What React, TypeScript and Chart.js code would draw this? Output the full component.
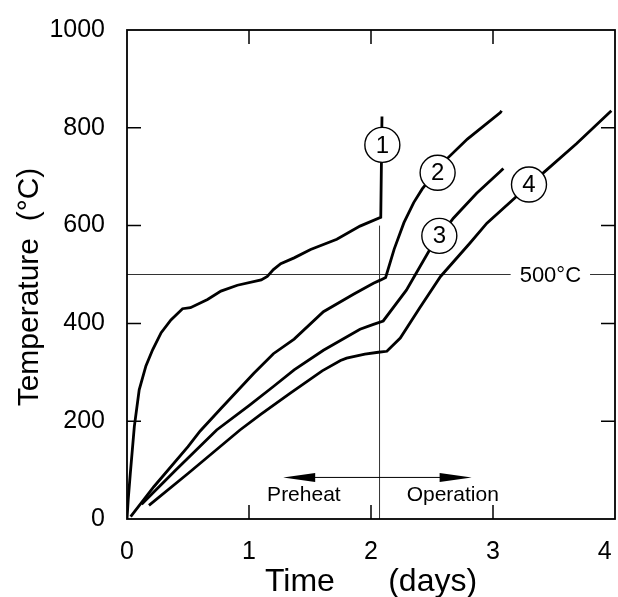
import React, { useEffect, useRef } from 'react';
import { Chart, registerables } from 'chart.js';

Chart.register(...registerables);

const FONT = '"Liberation Sans", Arial, Helvetica, sans-serif';

// Axis ticks
const xTicks = [0, 1, 2, 3, 4];
const yTicks = [0, 200, 400, 600, 800, 1000];

// Curve 1
const curve1Days = [0, 0.01, 0.027, 0.06, 0.1, 0.155, 0.21, 0.28, 0.36, 0.455, 0.52, 0.66, 0.77, 0.905, 1.1, 1.15, 1.2, 1.26, 1.37, 1.505, 1.72, 1.91, 2.08, 2.09];
const curve1Temp = [0, 40, 93, 189, 264, 313, 346, 381, 407, 430, 432, 449, 466, 478, 489, 496, 510, 522, 534, 551, 572, 599, 617, 823];

// Curve 2
const curve2Days = [0.03, 0.22, 0.5, 0.6, 0.77, 1.04, 1.2, 1.37, 1.61, 1.86, 2.02, 2.08, 2.12, 2.19, 2.27, 2.35, 2.42, 2.62, 2.79, 3.06, 3.07];
const curve2Temp = [5, 66, 148, 180, 226, 298, 338, 368, 424, 460, 482, 489, 494, 552, 606, 647, 675, 736, 777, 831, 835];

// Curve 3
const curve3Days = [0.12, 0.4, 0.735, 1.0, 1.2, 1.37, 1.61, 1.91, 2.02, 2.1, 2.29, 2.35, 2.48, 2.675, 2.866, 3.057, 3.085];
const curve3Temp = [30, 100, 182, 232, 271, 305, 345, 388, 398, 405, 468, 494, 550, 615, 666, 710, 717];

// Curve 4
const curve4Days = [0.18, 0.5, 0.926, 1.096, 1.336, 1.6, 1.75, 1.8, 1.95, 2.06, 2.13, 2.24, 2.4, 2.57, 2.81, 2.95, 3.19, 3.44, 3.686, 3.97];
const curve4Temp = [28, 93, 182, 214, 257, 303, 324, 329, 337, 341, 343, 370, 432, 496, 564, 605, 659, 714, 768, 835];

// Circled curve labels
const curveLabels = ['1', '2', '3', '4'];
const labelDays = [2.093, 2.546, 2.56, 3.295];
const labelTemps = [765, 708, 579, 684];

// Reference line and phase annotations
const refTemp = 500;
const refLabel = '500°C';
const refLabelDay = 3.47;
const switchDay = 2.07;
const switchTopTemp = 600;
const arrowTemp = 85;
const arrowFromDay = 1.28;
const arrowToDay = 2.825;
const phaseLabels = ['Preheat', 'Operation'];
const phaseDays = [1.45, 2.67];
const phaseTemp = 49;

const toPoints = (xs: number[], ys: number[]) => xs.map((x, i) => ({ x, y: ys[i] }));

const deco = {
  id: 'deco',
  beforeDatasetsDraw(chart: any) {
    const { ctx, chartArea: a, scales } = chart;
    const x = scales.x;
    const y = scales.y;
    ctx.save();
    ctx.strokeStyle = '#333';
    ctx.lineWidth = 1;
    const yr = y.getPixelForValue(refTemp);
    ctx.beginPath();
    ctx.moveTo(a.left, yr);
    ctx.lineTo(a.right, yr);
    ctx.stroke();
    const xs = x.getPixelForValue(switchDay);
    ctx.beginPath();
    ctx.moveTo(xs, a.bottom);
    ctx.lineTo(xs, y.getPixelForValue(switchTopTemp));
    ctx.stroke();

    // double arrow
    const ya = y.getPixelForValue(arrowTemp);
    const xl = x.getPixelForValue(arrowFromDay);
    const xr = x.getPixelForValue(arrowToDay);
    ctx.strokeStyle = '#000';
    ctx.beginPath();
    ctx.moveTo(xl + 10, ya);
    ctx.lineTo(xr - 10, ya);
    ctx.stroke();
    ctx.fillStyle = '#000';
    const hl = 32, hw = 4.5;
    ctx.beginPath();
    ctx.moveTo(xl, ya);
    ctx.lineTo(xl + hl, ya - hw);
    ctx.lineTo(xl + hl, ya + hw);
    ctx.closePath();
    ctx.fill();
    ctx.beginPath();
    ctx.moveTo(xr, ya);
    ctx.lineTo(xr - hl, ya - hw);
    ctx.lineTo(xr - hl, ya + hw);
    ctx.closePath();
    ctx.fill();

    ctx.font = `21px ${FONT}`;
    ctx.textAlign = 'center';
    ctx.textBaseline = 'middle';
    phaseLabels.forEach((t, i) => {
      ctx.fillText(t, x.getPixelForValue(phaseDays[i]), y.getPixelForValue(phaseTemp));
    });
    ctx.restore();
  },
  afterDatasetsDraw(chart: any) {
    const { ctx, chartArea: a, scales } = chart;
    const x = scales.x;
    const y = scales.y;
    ctx.save();
    // frame
    ctx.strokeStyle = '#000';
    ctx.lineWidth = 1.8;
    ctx.strokeRect(a.left, a.top, a.right - a.left, a.bottom - a.top);
    const tl = 14;
    ctx.lineWidth = 1.5;
    ctx.beginPath();
    xTicks.slice(1, -1).forEach((v) => {
      const px = x.getPixelForValue(v);
      ctx.moveTo(px, a.bottom);
      ctx.lineTo(px, a.bottom - tl);
      ctx.moveTo(px, a.top);
      ctx.lineTo(px, a.top + tl);
    });
    yTicks.slice(1, -1).forEach((v) => {
      const py = y.getPixelForValue(v);
      ctx.moveTo(a.left, py);
      ctx.lineTo(a.left + tl, py);
      ctx.moveTo(a.right, py);
      ctx.lineTo(a.right - tl, py);
    });
    ctx.stroke();

    // 500°C label
    ctx.font = `22px ${FONT}`;
    ctx.textAlign = 'center';
    ctx.textBaseline = 'middle';
    const lx = x.getPixelForValue(refLabelDay);
    const ly = y.getPixelForValue(refTemp);
    const w = ctx.measureText(refLabel).width + 18;
    ctx.fillStyle = '#fff';
    ctx.fillRect(lx - w / 2, ly - 3, w, 6);
    ctx.fillStyle = '#000';
    ctx.fillText(refLabel, lx, ly + 1);

    // circled labels
    curveLabels.forEach((t, i) => {
      const cx = x.getPixelForValue(labelDays[i]);
      const cy = y.getPixelForValue(labelTemps[i]);
      ctx.beginPath();
      ctx.arc(cx, cy, 17.5, 0, Math.PI * 2);
      ctx.fillStyle = '#fff';
      ctx.fill();
      ctx.lineWidth = 1.4;
      ctx.strokeStyle = '#000';
      ctx.stroke();
      ctx.fillStyle = '#000';
      ctx.font = `24px ${FONT}`;
      ctx.fillText(t, cx, cy + 1);
    });
    ctx.restore();
  },
};

export default function App() {
  const ref = useRef<HTMLCanvasElement>(null);
  useEffect(() => {
    if (!ref.current) return;
    const series = [
      toPoints(curve1Days, curve1Temp),
      toPoints(curve2Days, curve2Temp),
      toPoints(curve3Days, curve3Temp),
      toPoints(curve4Days, curve4Temp),
    ];
    const lastX = xTicks[xTicks.length - 1];
    const chart = new Chart(ref.current, {
      type: 'line',
      data: {
        datasets: series.map((d, i) => ({
          label: curveLabels[i],
          data: d,
          borderColor: '#000',
          borderWidth: 2.8,
          pointRadius: 0,
          fill: false,
          tension: 0,
        })),
      },
      options: {
        animation: false,
        responsive: false,
        devicePixelRatio: 1,
        layout: { padding: { top: 30, right: 3, left: 0, bottom: 0 } },
        plugins: { legend: { display: false }, tooltip: { enabled: false } },
        scales: {
          x: {
            type: 'linear',
            min: 0,
            max: 4,
            afterBuildTicks: (s: any) => {
              s.ticks = xTicks.map((v) => ({ value: v }));
            },
            grid: { display: false },
            border: { display: false },
            ticks: {
              font: { family: FONT, size: 25 },
              color: '#000',
              padding: 10,
              maxRotation: 0,
              callback: (v: any) => (v === lastX ? String(v) + '   ' : String(v)),
            },
            title: {
              display: true,
              text: 'Time      (days)',
              color: '#000',
              font: { family: FONT, size: 32, lineHeight: 0.9 },
              padding: { top: 0, bottom: 0 },
            },
            afterFit: (s: any) => {
              s.height = 78;
              s.paddingLeft = 0;
              s.paddingRight = 0;
            },
          },
          y: {
            type: 'linear',
            min: 0,
            max: 1000,
            afterBuildTicks: (s: any) => {
              s.ticks = yTicks.map((v) => ({ value: v }));
            },
            grid: { display: false },
            border: { display: false },
            ticks: {
              font: { family: FONT, size: 25 },
              color: '#000',
              padding: 14,
              callback: (v: any) => String(v),
            },
            title: {
              display: true,
              text: 'Temperature  (°C)   ',
              color: '#000',
              font: { family: FONT, size: 30, lineHeight: 1 },
              padding: { top: 15, bottom: 0 },
            },
            afterFit: (s: any) => {
              s.width = 127;
              s.paddingTop = 0;
              s.paddingBottom = 0;
            },
          },
        },
      },
      plugins: [deco],
    } as any);
    return () => chart.destroy();
  }, []);
  return (
    <div style={{ position: 'fixed', left: 0, top: 0, width: 618, height: 597, background: '#fff' }}>
      <canvas ref={ref} width={618} height={597} />
    </div>
  );
}
